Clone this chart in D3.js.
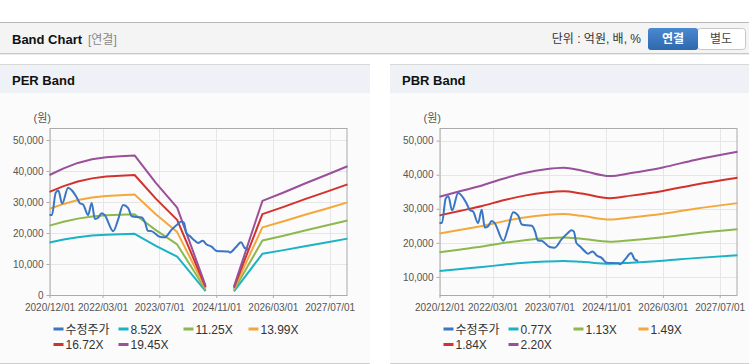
<!DOCTYPE html>
<html>
<head>
<meta charset="utf-8">
<script src="https://cdn.jsdelivr.net/npm/d3@7"></script>
<style>
body { margin: 0; background: #fff; }
svg { display: block; font-family: "Liberation Sans", Arial, "Noto Sans CJK KR", sans-serif; }
</style>
</head>
<body>
<svg width="749" height="364"></svg>
<script>
// 수정주가 (same series in both charts)
const priceDates = ["2020-12-01","2020-12-22","2021-01-23","2021-02-15","2021-03-19","2021-05-10","2021-06-10",
    "2021-07-22","2021-08-19","2021-09-15","2021-10-28","2021-11-28","2021-12-25","2022-01-22","2022-02-22",
    "2022-03-19","2022-06-01","2022-07-13","2022-08-25","2022-10-07","2022-11-07","2023-02-01","2023-02-28",
    "2023-03-25","2023-04-25","2023-07-04","2023-08-16","2023-10-13","2023-12-07","2024-01-07","2024-01-28",
    "2024-02-18","2024-03-19","2024-05-01","2024-05-28","2024-07-07","2024-08-10","2024-09-21","2024-11-04",
    "2025-02-13","2025-02-25","2025-04-15","2025-06-01","2025-07-01","2025-08-01"];
const priceValues = [25800, 25800, 33000, 33700, 29500, 34600, 33800,
    31500, 29600, 29200, 25800, 29700, 24500, 24900, 26400,
    25800, 20600, 24400, 29000, 28000, 25400, 25000, 23400,
    20700, 20600, 18800, 18600, 21000, 22900, 23700, 23300,
    20000, 19000, 17500, 16800, 17500, 16300, 15600, 14200,
    14000, 13700, 15300, 17000, 15200, 14700];

// PER band
const perDates = ["2020-12-01","2021-04-01","2021-08-01","2021-12-01","2022-04-01","2022-08-01","2022-12-01",
    "2023-06-01","2023-12-01","2024-08-01","2024-12-01","2025-04-01","2025-12-01","2026-06-01","2026-12-01",
    "2027-06-01","2027-12-01"];
const per852  = [16950, 17890, 18660, 19170, 19470, 19600, 19720, 15850, 12350, 1280, null, 1190, 13290, 14480, 15760, 16950, 18190];
const per1125 = [22390, 23630, 24640, 25310, 25710, 25880, 26040, 20930, 16310, 1690, null, 1580, 17550, 19130, 20810, 22390, 24020];
const per1399 = [27840, 29380, 30640, 31480, 31970, 32180, 32390, 26020, 20290, 2100, null, 1960, 21820, 23780, 25880, 27840, 29870];
const per1672 = [33270, 35110, 36620, 37620, 38210, 38460, 38710, 31100, 24240, 2510, null, 2340, 26080, 28420, 30930, 33270, 35700];
const per1945 = [38710, 40850, 42600, 43760, 44440, 44740, 45030, 36180, 28200, 2920, null, 2720, 30340, 33070, 35980, 38710, 41530];

// PBR band
const pbrDates = ["2020-12-01","2021-06-01","2021-12-01","2022-06-01","2022-12-01","2023-06-01","2023-11-01",
    "2024-04-01","2024-12-01","2025-06-01","2026-03-01","2026-12-01","2027-12-01"];
const pbr077 = [11740, 12320, 12900, 13590, 14170, 14550, 14710, 14440, 13860, 14170, 14750, 15520, 16360];
const pbr113 = [17230, 18080, 18930, 19940, 20790, 21360, 21580, 21190, 20340, 20790, 21640, 22770, 24010];
const pbr149 = [22720, 23840, 24960, 26300, 27420, 28160, 28460, 27940, 26820, 27420, 28530, 30020, 31660];
const pbr184 = [28060, 29440, 30820, 32480, 33860, 34780, 35140, 34500, 33120, 33860, 35240, 37080, 39100];
const pbr220 = [33550, 35200, 36850, 38830, 40480, 41580, 42020, 41250, 39600, 40480, 42130, 44330, 46750];

const xTickDates = ["2020-12-01","2022-03-01","2023-07-01","2024-11-01","2026-03-01","2027-07-01"];
const yTicks = [0, 10000, 20000, 30000, 40000, 50000];

const colors = ["#3a76c4", "#1bb2c6", "#8cb84e", "#f4a83b", "#d2322b", "#9a4f9b"];
const parse = d3.timeParse("%Y-%m-%d");

function zip(dates, values) {
    return dates.map((d, i) => ({ date: parse(d), v: values[i] }));
}

function drawHeader(svg) {
    svg.append("rect").attr("x", 0).attr("y", 22).attr("width", 749).attr("height", 31).attr("fill", "#f4f4f4");
    svg.append("line").attr("x1", 0).attr("x2", 749).attr("y1", 22.5).attr("y2", 22.5).attr("stroke", "#b9b9b9");
    svg.append("line").attr("x1", 0).attr("x2", 749).attr("y1", 53.5).attr("y2", 53.5).attr("stroke", "#c9c9c9");
    svg.append("line").attr("x1", 0).attr("x2", 749).attr("y1", 54.5).attr("y2", 54.5).attr("stroke", "#ececec");

    svg.append("text").attr("x", 12).attr("y", 44).attr("font-size", 13).attr("font-weight", "bold")
        .attr("fill", "#111").text("Band Chart");
    svg.append("text").attr("x", 88).attr("y", 44).attr("font-size", 12).attr("fill", "#888").text("[연결]");
    svg.append("text").attr("x", 641).attr("y", 43).attr("font-size", 12).attr("text-anchor", "end")
        .attr("fill", "#333").text("단위 : 억원, 배, %");

    const grad = svg.append("defs").append("linearGradient").attr("id", "btnBlue")
        .attr("x1", 0).attr("x2", 0).attr("y1", 0).attr("y2", 1);
    grad.append("stop").attr("offset", "0%").attr("stop-color", "#4a88d0");
    grad.append("stop").attr("offset", "100%").attr("stop-color", "#2e68ad");

    svg.append("rect").attr("x", 697.5).attr("y", 28.5).attr("width", 48).attr("height", 21).attr("rx", 3)
        .attr("fill", "#fff").attr("stroke", "#c6c6c6");
    svg.append("rect").attr("x", 648).attr("y", 28).attr("width", 50).attr("height", 22).attr("rx", 3)
        .attr("fill", "url(#btnBlue)");
    svg.append("text").attr("x", 673).attr("y", 43).attr("font-size", 12).attr("font-weight", "bold")
        .attr("text-anchor", "middle").attr("fill", "#fff").text("연결");
    svg.append("text").attr("x", 721).attr("y", 43).attr("font-size", 12)
        .attr("text-anchor", "middle").attr("fill", "#444").text("별도");
}

function drawPanel(svg, x0, width, title) {
    svg.append("rect").attr("x", x0).attr("y", 64).attr("width", width).attr("height", 299).attr("fill", "#fbfbfb");
    svg.append("rect").attr("x", x0).attr("y", 64).attr("width", width).attr("height", 29).attr("fill", "#eef1f5");
    svg.append("line").attr("x1", x0).attr("x2", x0 + width).attr("y1", 64.5).attr("y2", 64.5).attr("stroke", "#d8d8d8");
    svg.append("line").attr("x1", x0).attr("x2", x0 + width).attr("y1", 363.5).attr("y2", 363.5).attr("stroke", "#cfcfcf");
    svg.append("text").attr("x", x0 + 12).attr("y", 85).attr("font-size", 13).attr("font-weight", "bold")
        .attr("fill", "#111").text(title);
}

function drawBandChart(svg, cfg) {
    const area = { left: cfg.left, right: cfg.left + 298, top: 128, bottom: 295 };

    const scX = d3.scaleTime()
        .domain([parse("2020-12-01"), parse("2027-12-01")])
        .range([area.left, area.right]);
    const scY = d3.scaleLinear()
        .domain(cfg.yDomain)
        .range([area.bottom, area.top]);

    const ticksY = yTicks.filter(v => v >= cfg.yDomain[0] && v <= cfg.yDomain[1]);
    const ticksX = xTickDates.map(parse);

    // grid
    svg.append("g").selectAll("line").data(ticksY).enter().append("line")
        .attr("x1", area.left).attr("x2", area.right)
        .attr("y1", d => Math.round(scY(d)) + 0.5).attr("y2", d => Math.round(scY(d)) + 0.5)
        .attr("stroke", "#e6e6e6");
    svg.append("g").selectAll("line").data(ticksX).enter().append("line")
        .attr("x1", d => Math.round(scX(d)) + 0.5).attr("x2", d => Math.round(scX(d)) + 0.5)
        .attr("y1", area.top).attr("y2", area.bottom)
        .attr("stroke", "#e6e6e6");

    // axes
    const axisY = svg.append("g")
        .attr("transform", `translate(${area.left}, 0)`)
        .call(d3.axisLeft(scY).tickValues(ticksY).tickSize(3).tickPadding(3).tickFormat(d3.format(",")));
    const axisX = svg.append("g")
        .attr("transform", `translate(0, ${area.bottom})`)
        .call(d3.axisBottom(scX).tickValues(ticksX).tickSize(3).tickPadding(6).tickFormat(d3.timeFormat("%Y/%m/%d")));
    [axisY, axisX].forEach(g => {
        g.select(".domain").remove();
        g.selectAll(".tick line").attr("stroke", "#aaa");
        g.selectAll(".tick text").attr("fill", "#555").attr("font-size", 10)
            .attr("font-family", "\"Liberation Sans\", Arial, sans-serif");
    });

    svg.append("rect")
        .attr("x", area.left + 0.5).attr("y", area.top + 0.5)
        .attr("width", area.right - area.left - 1).attr("height", area.bottom - area.top)
        .attr("fill", "none").attr("stroke", "#aaa");

    svg.append("text").attr("x", cfg.left - 16).attr("y", 122).attr("font-size", 11)
        .attr("fill", "#555").text("(원)");

    // lines
    const lineGenerator = curve => d3.line()
        .defined(d => d.v != null)
        .x(d => scX(d.date))
        .y(d => scY(d.v))
        .curve(curve);

    cfg.bands.forEach((b, i) => {
        svg.append("path")
            .datum(zip(cfg.bandDates, b.values))
            .attr("fill", "none")
            .attr("stroke", colors[i + 1])
            .attr("stroke-width", 2)
            .attr("stroke-linejoin", "round")
            .attr("d", lineGenerator(cfg.curve));
    });

    svg.append("path")
        .datum(zip(priceDates, priceValues))
        .attr("fill", "none")
        .attr("stroke", colors[0])
        .attr("stroke-width", 2)
        .attr("stroke-linejoin", "round")
        .attr("d", lineGenerator(d3.curveMonotoneX));

    // legend
    const names = ["수정주가"].concat(cfg.bands.map(b => b.name));
    const legend = svg.append("g");
    names.forEach((name, i) => {
        const lx = cfg.left + 4 + (i % 4) * 65;
        const ly = 329 + Math.floor(i / 4) * 15.5;
        legend.append("rect").attr("x", lx).attr("y", ly - 1.5).attr("width", 10).attr("height", 3)
            .attr("fill", colors[i]);
        legend.append("text").attr("x", lx + 12).attr("y", ly + 4.5).attr("font-size", 12)
            .attr("fill", "#333").text(name);
    });
}

const svg = d3.select("svg");
drawHeader(svg);
drawPanel(svg, 0, 370, "PER Band");
drawPanel(svg, 390, 359, "PBR Band");

drawBandChart(svg, {
    left: 49.5,
    yDomain: [0, 53870],
    bandDates: perDates,
    curve: d3.curveLinear,
    bands: [
        { name: "8.52X", values: per852 },
        { name: "11.25X", values: per1125 },
        { name: "13.99X", values: per1399 },
        { name: "16.72X", values: per1672 },
        { name: "19.45X", values: per1945 }
    ]
});

drawBandChart(svg, {
    left: 439.5,
    yDomain: [4700, 53700],
    bandDates: pbrDates,
    curve: d3.curveMonotoneX,
    bands: [
        { name: "0.77X", values: pbr077 },
        { name: "1.13X", values: pbr113 },
        { name: "1.49X", values: pbr149 },
        { name: "1.84X", values: pbr184 },
        { name: "2.20X", values: pbr220 }
    ]
});
</script>
</body>
</html>
